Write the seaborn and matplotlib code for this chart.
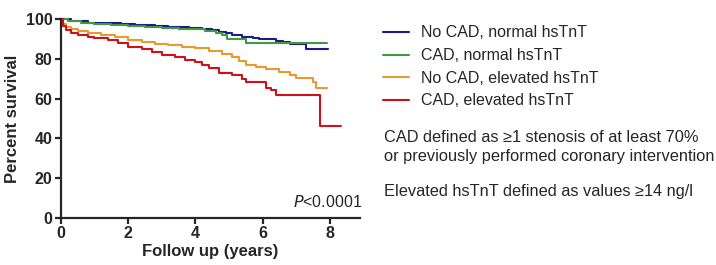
import pandas as pd
import seaborn as sns
import matplotlib.pyplot as plt

# Kaplan-Meier curves (years, percent survival)
t_nocad_norm = [0, 0.3, 0.8, 1.2, 1.8, 2.2, 2.8, 3.2, 3.8, 4.2, 4.5, 4.7, 4.9, 5.1, 5.4, 5.7, 5.9, 6.2, 6.4, 6.6, 6.8, 7.3, 7.95]
s_nocad_norm = [100, 98.8, 98.2, 97.8, 97.4, 97.0, 96.6, 96.0, 95.6, 95.0, 94.3, 93.5, 92.8, 92.0, 91.2, 90.6, 90.2, 89.8, 89.2, 88.3, 87.3, 84.8, 84.8]

t_cad_norm = [0, 0.2, 0.6, 1.0, 1.5, 2.0, 2.5, 3.0, 3.5, 4.0, 4.3, 4.6, 4.8, 4.95, 5.5, 7.92]
s_cad_norm = [100, 98.8, 98.0, 97.5, 97.0, 96.5, 96.0, 95.6, 95.2, 94.8, 94.2, 93.2, 92.0, 90.2, 88.2, 88.2]

t_nocad_elev = [0, 0.05, 0.15, 0.3, 0.5, 0.8, 1.2, 1.6, 2.0, 2.4, 2.8, 3.2, 3.6, 4.0, 4.4, 4.8, 5.1, 5.3, 5.5, 5.8, 6.1, 6.5, 6.8, 7.0, 7.5, 7.6, 7.92]
s_nocad_elev = [100, 97.5, 96.2, 95.0, 94.0, 93.0, 92.0, 90.8, 89.5, 88.5, 87.6, 87.0, 86.2, 85.4, 84.0, 82.5, 81.0, 79.0, 77.0, 75.8, 75.0, 73.2, 72.0, 70.3, 68.5, 65.3, 65.3]

t_cad_elev = [0, 0.05, 0.15, 0.3, 0.5, 0.8, 1.0, 1.4, 1.7, 2.0, 2.4, 2.7, 3.0, 3.4, 3.7, 4.0, 4.2, 4.4, 4.7, 5.1, 5.4, 5.5, 6.0, 6.1, 6.25, 6.4, 7.7, 8.33]
s_cad_elev = [100, 96.5, 94.5, 93.0, 92.0, 91.0, 90.4, 89.5, 88.0, 86.2, 85.0, 83.5, 81.8, 80.8, 79.6, 78.6, 77.0, 75.2, 72.8, 71.8, 70.0, 68.6, 68.6, 65.5, 64.2, 61.7, 46.3, 46.3]

labels = ["No CAD, normal hsTnT", "CAD, normal hsTnT", "No CAD, elevated hsTnT", "CAD, elevated hsTnT"]
colors = ["#1e1a8a", "#3f9a44", "#e89a2c", "#cf111d"]

frames = []
for lab, t, s in zip(labels, [t_nocad_norm, t_cad_norm, t_nocad_elev, t_cad_elev],
                     [s_nocad_norm, s_cad_norm, s_nocad_elev, s_cad_elev]):
    frames.append(pd.DataFrame({"years": t, "survival": s, "group": lab}))
df = pd.concat(frames, ignore_index=True)

sns.set_style("ticks")
plt.rcParams['font.family'] = ['Liberation Sans', 'DejaVu Sans']

fig = plt.figure(figsize=(7.16, 2.65), dpi=100)
ax = fig.add_axes([0.085, 0.177, 0.418, 0.751])

sns.lineplot(data=df, x="years", y="survival", hue="group", hue_order=labels,
             palette=colors, estimator=None, sort=False, drawstyle="steps-post",
             linewidth=1.5, clip_on=False, ax=ax)

ax.set_xlim(0, 8.9)
ax.set_ylim(0, 100)
ax.set_xticks([0, 2, 4, 6, 8])
ax.set_yticks([0, 20, 40, 60, 80, 100])
sns.despine(ax=ax)
for sp in ["left", "bottom"]:
    ax.spines[sp].set_linewidth(1.6)
ax.tick_params(width=1.6, length=4, labelsize=11.5, pad=2)
for lbl in ax.get_xticklabels() + ax.get_yticklabels():
    lbl.set_fontweight("bold")
ax.set_xlabel("Follow up (years)", fontsize=12, fontweight="bold", labelpad=2)
ax.set_ylabel("Percent survival", fontsize=12, fontweight="bold", labelpad=4)

ax.text(8.95, 4, r"$\it{P}$<0.0001", ha="right", va="bottom", fontsize=11.5)

ax.legend(loc="upper left", bbox_to_anchor=(1.055, 1.0), frameon=False, fontsize=11.5,
          handlelength=1.6, handletextpad=0.8, labelspacing=0.48, borderaxespad=0)

fig.text(0.536, 0.445, "CAD defined as \u22651 stenosis of at least 70%\nor previously performed coronary intervention",
         fontsize=11.8, va="center", ha="left", linespacing=1.3)
fig.text(0.536, 0.279, "Elevated hsTnT defined as values \u226514 ng/l",
         fontsize=11.8, va="center", ha="left")

fig.savefig("out.png", dpi=100)
